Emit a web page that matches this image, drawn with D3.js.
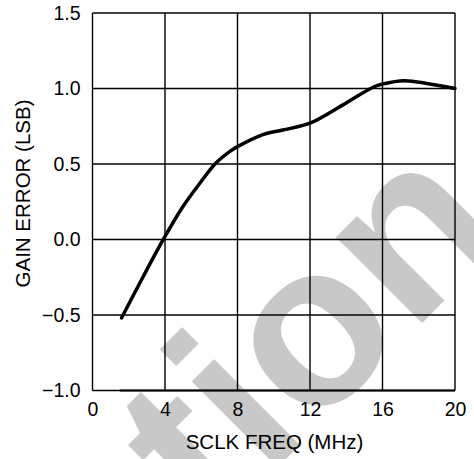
<!DOCTYPE html>
<html><head><meta charset="utf-8">
<script src="https://cdn.jsdelivr.net/npm/d3@7"></script>
<style>html,body{margin:0;padding:0;background:#fff;}svg{display:block;}</style>
</head><body>
<svg id="chart" width="474" height="459"></svg>
<script>
const freqMHz = [1.6, 2.8, 4.0, 5.0, 6.0, 6.76, 7.6, 8.0, 9.4, 10.5, 12.0, 13.8, 15.5, 16.0, 17.2, 18.6, 20.0];
const gainLSB = [-0.52, -0.245, 0.02, 0.22, 0.385, 0.50, 0.585, 0.615, 0.695, 0.725, 0.77, 0.89, 1.01, 1.03, 1.052, 1.03, 1.0];
const xTicks = [0, 4, 8, 12, 16, 20];
const yTicks = [-1.0, -0.5, 0.0, 0.5, 1.0, 1.5];
const xTitle = "SCLK FREQ (MHz)";
const yTitle = "GAIN ERROR (LSB)";
const watermark = "Information";

const svg = d3.select("#chart");
const L = 92.5, R = 455, T = 13, B = 390.5;
const x = d3.scaleLinear().domain([0, 20]).range([L, R]);
const y = d3.scaleLinear().domain([-1, 1.5]).range([B, T]);
const font = "'Liberation Sans', Arial, sans-serif";

// watermark
svg.append("text")
  .attr("transform", "translate(510,235) rotate(-45)")
  .attr("text-anchor", "end")
  .attr("font-family", font).attr("font-weight", "bold")
  .attr("font-size", 230).attr("fill", "#c8c8c8")
  .text(watermark);

// grid
const g = svg.append("g");
g.selectAll("line.vx").data(xTicks).join("line")
  .attr("x1", d => x(d)).attr("x2", d => x(d)).attr("y1", T).attr("y2", B)
  .attr("stroke", "#000").attr("stroke-width", 1.4);
g.selectAll("line.hy").data(yTicks).join("line")
  .attr("y1", d => y(d)).attr("y2", d => y(d)).attr("x1", L).attr("x2", R)
  .attr("stroke", "#000").attr("stroke-width", 1.4);
g.append("line").attr("x1", x(1.5)).attr("x2", R).attr("y1", B).attr("y2", B)
  .attr("stroke", "#000").attr("stroke-width", 2);

// axes labels via d3 axes
const xAxis = d3.axisBottom(x).tickValues(xTicks).tickFormat(d3.format("d")).tickSize(0).tickPadding(12);
const xg = svg.append("g").attr("transform", `translate(0,${B})`).call(xAxis);
xg.select(".domain").remove();
xg.selectAll("text").attr("font-family", font).attr("font-size", 19.5).attr("fill", "#000");

const yAxis = d3.axisLeft(y).tickValues(yTicks).tickFormat(d3.format(".1f")).tickSize(0).tickPadding(12);
const yg = svg.append("g").attr("transform", `translate(${L},0)`).call(yAxis);
yg.select(".domain").remove();
yg.selectAll("text").attr("font-family", font).attr("font-size", 19.5).attr("fill", "#000");

svg.append("text").attr("x", 274.5).attr("y", 449)
  .attr("text-anchor", "middle").attr("font-family", font).attr("font-size", 20.5)
  .text(xTitle);
svg.append("text").attr("transform", `translate(30,193.5) rotate(-90)`)
  .attr("text-anchor", "middle").attr("font-family", font).attr("font-size", 20.5)
  .text(yTitle);

// curve
const line = d3.line().x((d, i) => x(freqMHz[i])).y(d => y(d)).curve(d3.curveCatmullRom.alpha(0.5));
svg.append("path").datum(gainLSB).attr("d", line)
  .attr("fill", "none").attr("stroke", "#000").attr("stroke-width", 3.5)
  .attr("stroke-linecap", "round");
</script>
</body></html>
